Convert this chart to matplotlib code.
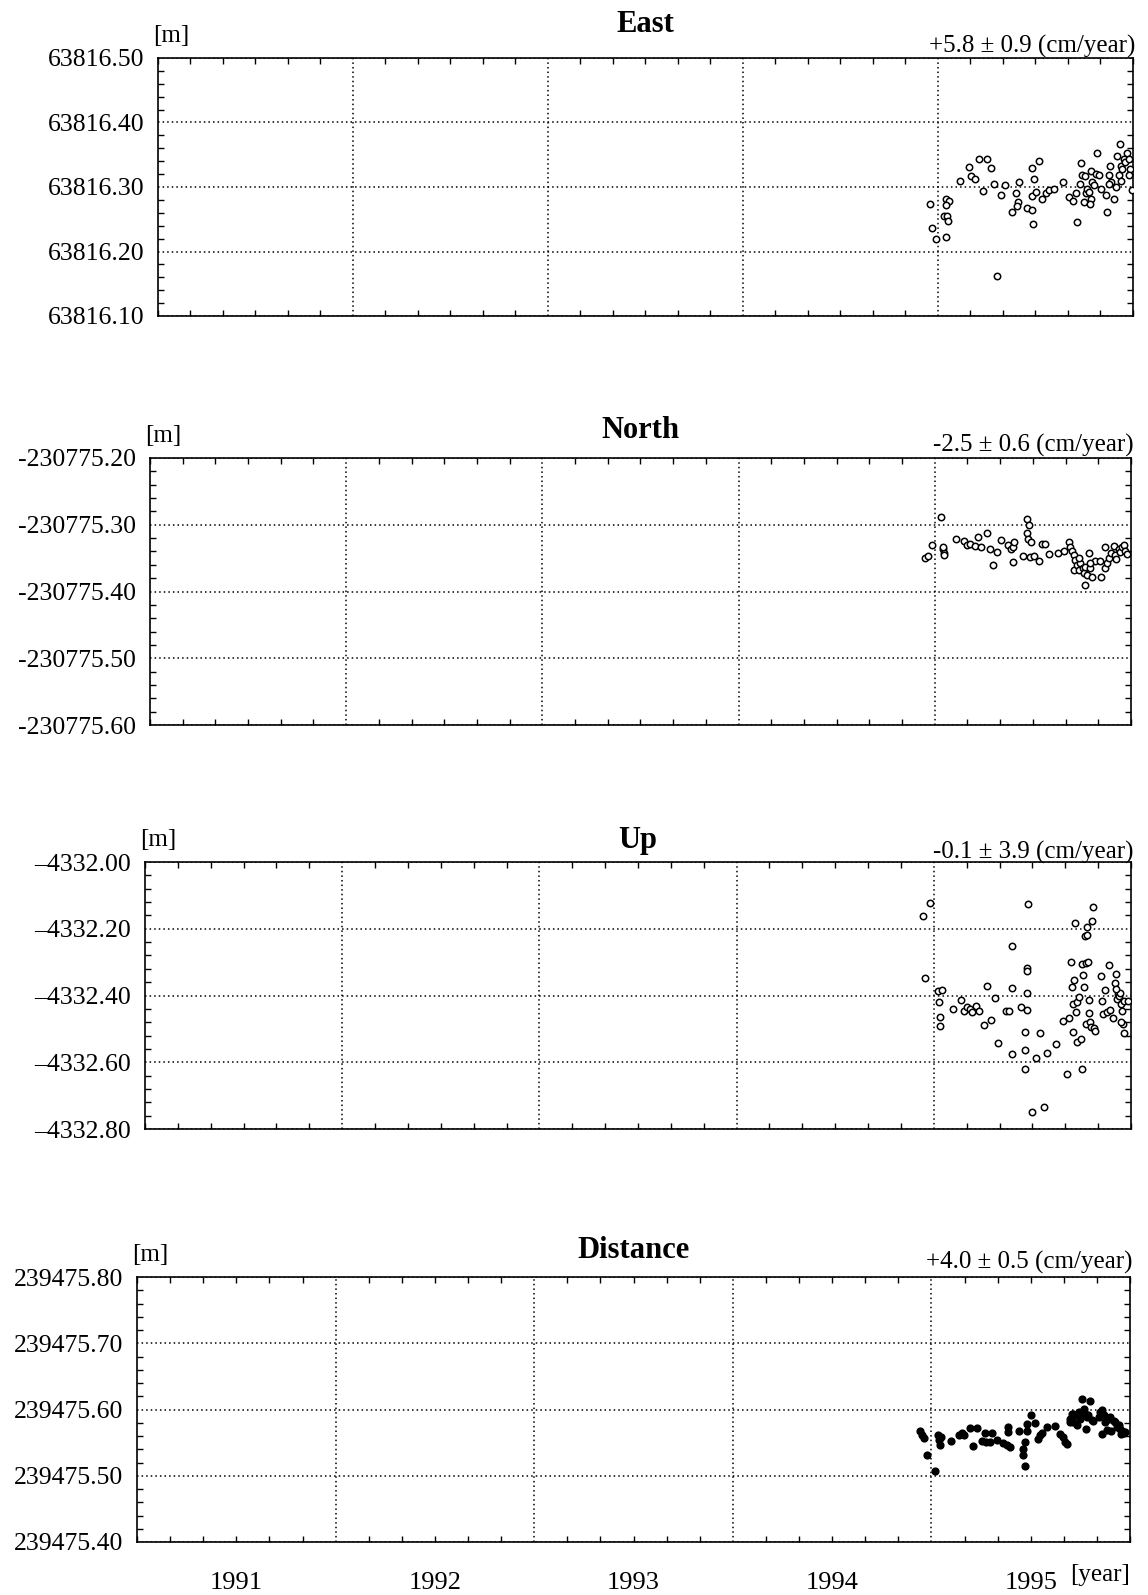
import numpy as np
import matplotlib.pyplot as plt
from matplotlib.ticker import FixedLocator, MultipleLocator, NullFormatter

plt.rcParams.update({
    "font.family": ["Liberation Serif", "DejaVu Serif"],
    "font.size": 18,
    "axes.linewidth": 1.2,
})

YEARS = [1991, 1992, 1993, 1994, 1995]
TITLES = ["East", "North", "Up", "Distance"]
RATES = ["+5.8 \u00b1 0.9 (cm/year)", "-2.5 \u00b1 0.6 (cm/year)",
         "-0.1 \u00b1 3.9 (cm/year)", "+4.0 \u00b1 0.5 (cm/year)"]

# East component [m]
east_t = [1994.959, 1994.971, 1994.991, 1995.043, 1995.056, 1995.043, 1995.031, 1995.048, 1995.053,
          1995.043, 1995.113, 1995.159, 1995.171, 1995.188, 1995.210, 1995.250, 1995.270, 1995.232,
          1995.287, 1995.325, 1995.344, 1995.301, 1995.381, 1995.402, 1995.410, 1995.407, 1995.415,
          1995.458, 1995.484, 1995.480, 1995.480, 1995.492, 1995.501, 1995.518, 1995.489, 1995.535,
          1995.552, 1995.569, 1995.595, 1995.641, 1995.672, 1995.694, 1995.711, 1995.706, 1995.732,
          1995.740, 1995.726, 1995.749, 1995.757, 1995.752, 1995.766, 1995.774, 1995.783, 1995.791,
          1995.786, 1995.779, 1995.800, 1995.809, 1995.817, 1995.826, 1995.834, 1995.860, 1995.865,
          1995.877, 1995.882, 1995.889, 1995.903, 1995.911, 1995.920, 1995.928, 1995.933, 1995.937,
          1995.945, 1995.954, 1995.957, 1995.971, 1995.979, 1995.985, 1995.979, 1995.996, 1995.937,
          1995.877]
east_v = [63816.273, 63816.236, 63816.219, 63816.281, 63816.278, 63816.272, 63816.255, 63816.255,
          63816.248, 63816.223, 63816.309, 63816.331, 63816.317, 63816.313, 63816.344, 63816.344,
          63816.330, 63816.294, 63816.304, 63816.287, 63816.303, 63816.162, 63816.262, 63816.291,
          63816.276, 63816.271, 63816.308, 63816.268, 63816.265, 63816.286, 63816.329, 63816.312,
          63816.292, 63816.340, 63816.243, 63816.281, 63816.290, 63816.295, 63816.297, 63816.308,
          63816.284, 63816.279, 63816.246, 63816.290, 63816.337, 63816.318, 63816.305, 63816.277,
          63816.290, 63816.317, 63816.297, 63816.292, 63816.325, 63816.308, 63816.282, 63816.273,
          63816.303, 63816.320, 63816.352, 63816.318, 63816.297, 63816.287, 63816.261, 63816.318,
          63816.333, 63816.307, 63816.281, 63816.300, 63816.348, 63816.318, 63816.367, 63816.333,
          63816.328, 63816.344, 63816.338, 63816.352, 63816.343, 63816.328, 63816.318, 63816.295,
          63816.309, 63816.304]

# North component [m]
north_t = [1994.949, 1994.966, 1994.986, 1995.032, 1995.042, 1995.046, 1995.046, 1995.042, 1995.109,
           1995.148, 1995.165, 1995.177, 1995.204, 1995.221, 1995.238, 1995.267, 1995.279, 1995.297,
           1995.318, 1995.335, 1995.374, 1995.386, 1995.399, 1995.403, 1995.399, 1995.449, 1995.471,
           1995.479, 1995.471, 1995.476, 1995.488, 1995.483, 1995.505, 1995.530, 1995.547, 1995.564,
           1995.584, 1995.629, 1995.657, 1995.683, 1995.691, 1995.700, 1995.708, 1995.714, 1995.712,
           1995.725, 1995.734, 1995.742, 1995.754, 1995.759, 1995.768, 1995.776, 1995.785, 1995.793,
           1995.802, 1995.819, 1995.763, 1995.844, 1995.849, 1995.866, 1995.870, 1995.878, 1995.887,
           1995.900, 1995.912, 1995.917, 1995.924, 1995.938, 1995.946, 1995.955, 1995.963, 1995.968,
           1995.980, 1995.793, 1995.734]
north_v = [-230775.350, -230775.347, -230775.331, -230775.288, -230775.336, -230775.342, -230775.345,
           -230775.334, -230775.321, -230775.324, -230775.331, -230775.329, -230775.332, -230775.319,
           -230775.333, -230775.313, -230775.336, -230775.360, -230775.341, -230775.323, -230775.331,
           -230775.337, -230775.334, -230775.326, -230775.356, -230775.347, -230775.292, -230775.300,
           -230775.313, -230775.322, -230775.326, -230775.349, -230775.347, -230775.354, -230775.329,
           -230775.329, -230775.344, -230775.343, -230775.340, -230775.326, -230775.334, -230775.340,
           -230775.345, -230775.353, -230775.368, -230775.360, -230775.368, -230775.358, -230775.365,
           -230775.373, -230775.363, -230775.376, -230775.342, -230775.365, -230775.378, -230775.354,
           -230775.391, -230775.355, -230775.378, -230775.334, -230775.365, -230775.358, -230775.350,
           -230775.342, -230775.332, -230775.345, -230775.351, -230775.337, -230775.341, -230775.334,
           -230775.330, -230775.340, -230775.344, -230775.357, -230775.350]

# Up component [m]
up_t = [1994.944, 1994.981, 1994.956, 1995.020, 1995.043, 1995.026, 1995.032, 1995.029, 1995.097,
        1995.140, 1995.152, 1995.169, 1995.182, 1995.196, 1995.213, 1995.230, 1995.254, 1995.271,
        1995.288, 1995.310, 1995.324, 1995.366, 1995.383, 1995.395, 1995.395, 1995.395, 1995.441,
        1995.463, 1995.463, 1995.472, 1995.472, 1995.475, 1995.475, 1995.480, 1995.463, 1995.497,
        1995.520, 1995.540, 1995.557, 1995.574, 1995.620, 1995.654, 1995.673, 1995.688, 1995.697,
        1995.702, 1995.707, 1995.707, 1995.710, 1995.714, 1995.719, 1995.727, 1995.727, 1995.736,
        1995.744, 1995.753, 1995.753, 1995.758, 1995.762, 1995.765, 1995.770, 1995.773, 1995.775,
        1995.779, 1995.784, 1995.787, 1995.787, 1995.792, 1995.796, 1995.804, 1995.809, 1995.813,
        1995.818, 1995.847, 1995.855, 1995.867, 1995.860, 1995.877, 1995.889, 1995.894, 1995.910,
        1995.918, 1995.923, 1995.928, 1995.932, 1995.940, 1995.945, 1995.949, 1995.952, 1995.957,
        1995.963, 1995.949, 1995.966, 1995.983, 1995.923]
up_v = [-4332.162, -4332.122, -4332.347, -4332.388, -4332.385, -4332.418, -4332.465, -4332.492,
        -4332.440, -4332.413, -4332.445, -4332.435, -4332.440, -4332.448, -4332.430, -4332.445,
        -4332.488, -4332.372, -4332.472, -4332.408, -4332.541, -4332.445, -4332.447, -4332.251,
        -4332.378, -4332.576, -4332.435, -4332.509, -4332.563, -4332.442, -4332.392, -4332.318,
        -4332.328, -4332.127, -4332.621, -4332.750, -4332.588, -4332.511, -4332.734, -4332.571,
        -4332.546, -4332.477, -4332.636, -4332.468, -4332.300, -4332.375, -4332.425, -4332.509,
        -4332.355, -4332.184, -4332.450, -4332.539, -4332.420, -4332.405, -4332.531, -4332.621,
        -4332.305, -4332.340, -4332.375, -4332.221, -4332.302, -4332.485, -4332.194, -4332.219,
        -4332.300, -4332.452, -4332.413, -4332.480, -4332.495, -4332.177, -4332.134, -4332.498,
        -4332.506, -4332.342, -4332.415, -4332.385, -4332.455, -4332.448, -4332.310, -4332.442,
        -4332.468, -4332.362, -4332.335, -4332.410, -4332.395, -4332.400, -4332.392, -4332.425,
        -4332.445, -4332.485, -4332.511, -4332.480, -4332.415, -4332.415, -4332.380]

# Baseline distance [m]
dist_t = [1994.941, 1994.953, 1994.963, 1994.980, 1995.020, 1995.034, 1995.039, 1995.042, 1995.047,
          1995.098, 1995.138, 1995.152, 1995.165, 1995.194, 1995.210, 1995.232, 1995.253, 1995.269,
          1995.274, 1995.295, 1995.306, 1995.328, 1995.362, 1995.379, 1995.396, 1995.387, 1995.384,
          1995.441, 1995.463, 1995.463, 1995.471, 1995.480, 1995.480, 1995.471, 1995.502, 1995.522,
          1995.535, 1995.547, 1995.559, 1995.581, 1995.623, 1995.648, 1995.665, 1995.673, 1995.682,
          1995.699, 1995.707, 1995.715, 1995.724, 1995.732, 1995.741, 1995.749, 1995.758, 1995.766,
          1995.774, 1995.783, 1995.778, 1995.791, 1995.800, 1995.808, 1995.816, 1995.850, 1995.859,
          1995.867, 1995.859, 1995.875, 1995.884, 1995.892, 1995.901, 1995.906, 1995.918, 1995.926,
          1995.934, 1995.943, 1995.951, 1995.956, 1995.960, 1995.968, 1995.976, 1995.699, 1995.715,
          1995.842]
dist_v = [239475.567, 239475.562, 239475.557, 239475.532, 239475.507, 239475.561, 239475.554,
          239475.547, 239475.558, 239475.552, 239475.561, 239475.564, 239475.561, 239475.572,
          239475.545, 239475.572, 239475.552, 239475.564, 239475.551, 239475.551, 239475.564,
          239475.554, 239475.549, 239475.547, 239475.544, 239475.573, 239475.566, 239475.567,
          239475.540, 239475.532, 239475.551, 239475.578, 239475.568, 239475.514, 239475.591,
          239475.579, 239475.556, 239475.561, 239475.564, 239475.573, 239475.575, 239475.563,
          239475.559, 239475.551, 239475.548, 239475.586, 239475.593, 239475.581, 239475.591,
          239475.577, 239475.596, 239475.586, 239475.616, 239475.601, 239475.593, 239475.588,
          239475.571, 239475.591, 239475.613, 239475.584, 239475.582, 239475.596, 239475.599,
          239475.591, 239475.563, 239475.581, 239475.569, 239475.586, 239475.588, 239475.568,
          239475.583, 239475.581, 239475.573, 239475.577, 239475.571, 239475.563, 239475.568,
          239475.564, 239475.566, 239475.581, 239475.593, 239475.588]

east_ticks = [63816.10, 63816.20, 63816.30, 63816.40, 63816.50]
north_ticks = [-230775.60, -230775.50, -230775.40, -230775.30, -230775.20]
up_ticks = [-4332.80, -4332.60, -4332.40, -4332.20, -4332.00]
dist_ticks = [239475.40, 239475.50, 239475.60, 239475.70, 239475.80]

east_labels = ["63816.10", "63816.20", "63816.30", "63816.40", "63816.50"]
north_labels = ["-230775.60", "-230775.50", "-230775.40", "-230775.30", "-230775.20"]
up_labels = ["\u20134332.80", "\u20134332.60", "\u20134332.40", "\u20134332.20", "\u20134332.00"]
dist_labels = ["239475.40", "239475.50", "239475.60", "239475.70", "239475.80"]

W, H = 1148, 1595
# axes boxes in pixels: left, top, right, bottom
boxes = [(158, 58, 1133, 316), (150, 458, 1131, 725), (145, 862, 1131, 1129), (137, 1277, 1130, 1542)]
title_off = [34, 27, 22, 27]
rate_off = [12, 13, 10, 15]
minor_y = [0.02, 0.02, 0.04, 0.02]

series = [(east_t, east_v, east_ticks, east_labels),
          (north_t, north_v, north_ticks, north_labels),
          (up_t, up_v, up_ticks, up_labels),
          (dist_t, dist_v, dist_ticks, dist_labels)]

fig = plt.figure(figsize=(W / 100, H / 100), dpi=100)
px = 0.72  # points per pixel at 100 dpi

for i, (t, v, ticks, labels) in enumerate(series):
    l, tp, r, b = boxes[i]
    ax = fig.add_axes([l / W, 1 - b / H, (r - l) / W, (b - tp) / H])
    filled = (i == 3)
    ax.plot(t, v, ls="none", marker="o", ms=4.8 if filled else 4.6,
            mfc="black" if filled else "white", mec="black", mew=1.1, zorder=3)
    ax.set_xlim(1991, 1996)
    ax.set_ylim(ticks[0], ticks[-1])

    ax.xaxis.set_major_locator(FixedLocator(YEARS[1:]))
    ax.xaxis.set_major_formatter(NullFormatter())
    ax.xaxis.set_minor_locator(MultipleLocator(1 / 6))
    ax.yaxis.set_major_locator(FixedLocator(ticks))
    ax.set_yticklabels(labels)
    ax.yaxis.set_minor_locator(MultipleLocator(minor_y[i]))
    ax.tick_params(which="major", length=0, pad=10, labelsize=18.5)
    ax.tick_params(which="minor", direction="in", length=4, width=1.0,
                   top=True, right=True, bottom=True, left=True)
    ax.grid(True, which="major", color="black", ls=(0, (1, 2)), lw=1.1)

    ax.annotate(TITLES[i], xy=(0.5, 1), xycoords="axes fraction",
                xytext=(0, title_off[i] * px), textcoords="offset points",
                ha="center", va="center", fontsize=22, fontweight="bold")
    ax.annotate(RATES[i], xy=(1, 1), xycoords="axes fraction",
                xytext=(2, rate_off[i] * px), textcoords="offset points",
                ha="right", va="center", fontsize=18)
    ax.annotate("[m]", xy=(0, 1), xycoords="axes fraction",
                xytext=(-5 * px, 22 * px), textcoords="offset points",
                ha="left", va="center", fontsize=18)

    if i == 3:
        for yr in YEARS:
            ax.text(yr + 0.5, -0.155, str(yr), transform=ax.get_xaxis_transform(),
                    ha="center", va="center", fontsize=19)
        ax.text(1.0, -0.125, "[year]", transform=ax.transAxes,
                ha="right", va="center", fontsize=18)

fig.savefig("out.png", dpi=100)
